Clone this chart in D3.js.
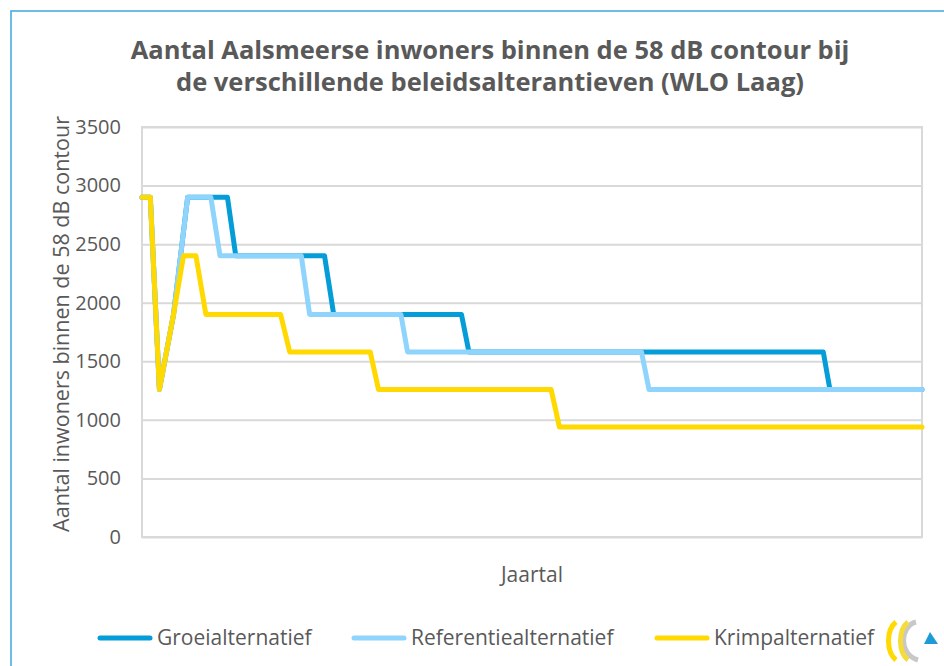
<!DOCTYPE html>
<html>
<head>
<meta charset="utf-8">
<script src="https://cdn.jsdelivr.net/npm/d3@7"></script>
<style>
    body { margin: 0; background: #fff; }
    text { font-family: "Open Sans", sans-serif; fill: #595959; }
</style>
</head>
<body>
<div id="chart"></div>
<script>

// jaartallen en aantallen per alternatief
const groeiJaar = [2006, 2007, 2008.1, 2009.8, 2011.5, 2016.3, 2017.3, 2028.0, 2029.1, 2044.5, 2045.4, 2088.1, 2088.9, 2100];
const groeiWaarde = [2900, 2900, 1260, 1900, 2900, 2900, 2400, 2400, 1900, 1900, 1580, 1580, 1260, 1260];

const refJaar = [2006, 2007, 2008.1, 2009.8, 2011.5, 2014.3, 2015.4, 2025.2, 2026.2, 2037.2, 2038.0, 2066.2, 2067.1, 2100];
const refWaarde = [2900, 2900, 1260, 1900, 2900, 2900, 2400, 2400, 1900, 1900, 1580, 1580, 1260, 1260];

const krimpJaar = [2006, 2007, 2008.1, 2009.8, 2011.0, 2012.5, 2013.7, 2022.7, 2023.8, 2033.5, 2034.5, 2055.3, 2056.3, 2100];
const krimpWaarde = [2900, 2900, 1260, 1900, 2400, 2400, 1900, 1900, 1580, 1580, 1260, 1260, 940, 940];

const seriesNames = ["Groeialternatief", "Referentiealternatief", "Krimpalternatief"];
const yTicks = [0, 500, 1000, 1500, 2000, 2500, 3000, 3500];
const titleLines = [
    "Aantal Aalsmeerse inwoners binnen de 58 dB contour bij",
    "de verschillende beleidsalterantieven (WLO Laag)"
];


class LineVis {

    constructor(parentElement) {
        this.parentElement = parentElement;
        this.colors = ["#049dd8", "#8fd4fc", "#ffd900"];
        this.series = [
            {name: seriesNames[0], values: groeiJaar.map((j, i) => ({jaar: j, waarde: groeiWaarde[i]}))},
            {name: seriesNames[1], values: refJaar.map((j, i) => ({jaar: j, waarde: refWaarde[i]}))},
            {name: seriesNames[2], values: krimpJaar.map((j, i) => ({jaar: j, waarde: krimpWaarde[i]}))}
        ];
        this.initVis();
    }

    initVis() {
        let vis = this;

        vis.margin = {top: 127, right: 20, bottom: 129, left: 142};
        vis.width = 944 - vis.margin.left - vis.margin.right - 2;
        vis.height = 666 - vis.margin.top - vis.margin.bottom;

        vis.svg = d3.select("#" + vis.parentElement).append("svg")
            .attr("width", 944)
            .attr("height", 666);

        // chart border (only left and top fall inside the picture)
        vis.svg.append("rect")
            .attr("x", 11).attr("y", 11)
            .attr("width", 960).attr("height", 700)
            .attr("fill", "none")
            .attr("stroke", "#3fa6dc")
            .attr("stroke-width", 1.5);

        // title
        vis.svg.append("g")
            .attr("class", "title")
            .selectAll("text")
            .data(titleLines)
            .enter()
            .append("text")
            .attr("x", 490)
            .attr("y", (d, i) => 59 + i * 32)
            .attr("text-anchor", "middle")
            .style("font-size", "25.5px")
            .style("font-weight", "bold")
            .text(d => d);

        vis.g = vis.svg.append("g")
            .attr("transform", `translate(${vis.margin.left}, ${vis.margin.top})`);

        vis.x = d3.scaleLinear()
            .domain([2006, 2100])
            .range([0, vis.width]);

        vis.y = d3.scaleLinear()
            .domain([0, 3500])
            .range([vis.height, 0]);

        // gridlines
        vis.g.append("g")
            .attr("class", "grid")
            .call(d3.axisLeft(vis.y).tickValues(yTicks).tickSize(-vis.width).tickFormat(""))
            .call(g => g.select(".domain").remove())
            .selectAll("line")
            .attr("stroke", "#d9d9d9")
            .attr("stroke-width", 2);

        // plot area frame
        vis.g.append("rect")
            .attr("width", vis.width)
            .attr("height", vis.height)
            .attr("fill", "none")
            .attr("stroke", "#d9d9d9")
            .attr("stroke-width", 2);

        // y axis labels
        vis.g.append("g")
            .attr("class", "y-axis")
            .call(d3.axisLeft(vis.y).tickValues(yTicks).tickSize(0).tickPadding(21).tickFormat(d3.format("d")))
            .call(g => g.select(".domain").remove())
            .selectAll("text")
            .style("font-size", "20px")
            .style("font-family", "'Open Sans', sans-serif")
            .attr("fill", "#595959");

        // axis titles
        vis.svg.append("text")
            .attr("transform", `translate(69, ${vis.margin.top + vis.height / 2 - 8}) rotate(-90)`)
            .attr("text-anchor", "middle")
            .style("font-size", "21.5px")
            .text("Aantal inwoners binnen de 58 dB contour");

        vis.svg.append("text")
            .attr("x", vis.margin.left + vis.width / 2)
            .attr("y", 582)
            .attr("text-anchor", "middle")
            .style("font-size", "21px")
            .text("Jaartal");

        vis.line = d3.line()
            .x(d => vis.x(d.jaar))
            .y(d => vis.y(d.waarde));

        vis.g.selectAll(".serie")
            .data(vis.series)
            .enter()
            .append("path")
            .attr("class", "serie")
            .attr("fill", "none")
            .attr("stroke", (d, i) => vis.colors[i])
            .attr("stroke-width", 5)
            .attr("stroke-linejoin", "round")
            .attr("stroke-linecap", "round")
            .attr("d", d => vis.line(d.values));

        vis.drawLegend();
        vis.drawLogo();
    }

    drawLegend() {
        let vis = this;
        let legendX = [100, 354, 657];

        let items = vis.svg.append("g")
            .attr("class", "legend")
            .selectAll(".item")
            .data(vis.series)
            .enter()
            .append("g")
            .attr("transform", (d, i) => `translate(${legendX[i]}, 638)`);

        items.append("line")
            .attr("x1", 0).attr("x2", 50)
            .attr("stroke", (d, i) => vis.colors[i])
            .attr("stroke-width", 5)
            .attr("stroke-linecap", "round");

        items.append("text")
            .attr("x", 57)
            .attr("dy", "0.35em")
            .style("font-size", "21px")
            .text(d => d.name);
    }

    drawLogo() {
        let vis = this;
        let logo = vis.svg.append("g")
            .attr("transform", "translate(886, 620)");

        logo.append("path")
            .attr("d", "M30,2 C14,6 12,34 32,40")
            .attr("fill", "none").attr("stroke", "#c8c8c8").attr("stroke-width", 5);
        logo.append("path")
            .attr("d", "M10,2 C0,10 0,32 10,40")
            .attr("fill", "none").attr("stroke", "#ffd900").attr("stroke-width", 5);
        logo.append("path")
            .attr("d", "M22,2 C12,10 12,32 22,40")
            .attr("fill", "none").attr("stroke", "#f5dc3a").attr("stroke-width", 5);
        logo.append("path")
            .attr("d", "M44,12 L52,24 L38,24 Z")
            .attr("fill", "#1d9ad8");
    }
}

new LineVis("chart");

</script>
</body>
</html>
